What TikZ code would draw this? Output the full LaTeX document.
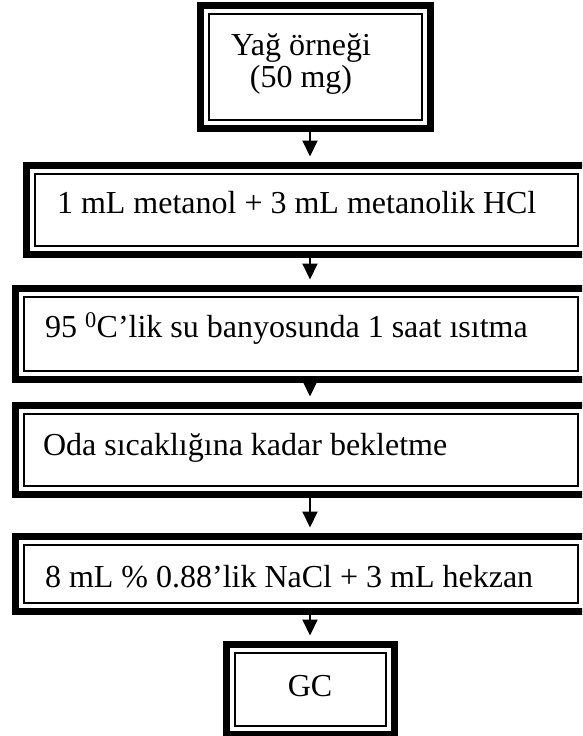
\documentclass[tikz,border=0pt]{standalone}
\usepackage{fontspec}
\setmainfont{Liberation Serif}
\usetikzlibrary{arrows.meta}
\tikzset{
  frame/.style={draw, line width=7pt, inner sep=0pt, outer sep=0pt, rectangle},
  txt/.style={font=\fontsize{32}{32}\selectfont, inner sep=0pt, outer sep=0pt},
  arr/.style={line width=2pt, -{Triangle[length=16pt,width=15pt]}, shorten >=9pt}
}
\begin{document}
\begin{tikzpicture}[x=1pt,y=-1pt]
\useasboundingbox (0,0) rectangle (582,736);
\clip (0,0) rectangle (582,736);
% frames: outer edges -> centre line inset 3.5
\node[frame, minimum width=230pt, minimum height=123pt] (f1) at (315.5,67) {};
\node[frame, minimum width=560pt, minimum height=89pt]  (f2) at (306.5,210) {};
\node[frame, minimum width=571pt, minimum height=91pt]  (f3) at (301,334) {};
\node[frame, minimum width=571pt, minimum height=89pt]  (f4) at (301,450) {};
\node[frame, minimum width=571pt, minimum height=75pt]  (f5) at (301,574) {};
\node[frame, minimum width=168pt, minimum height=90pt]  (f6) at (310.5,689.5) {};
\foreach \n in {f1,f2,f3,f4,f5,f6}
  \draw[line width=1.8pt] ([xshift=8.5pt,yshift=-8.5pt]\n.north west) rectangle ([xshift=-8.5pt,yshift=8.5pt]\n.south east);
% texts
\node[txt, anchor=base] (t1a) at (301,55) {Yağ örneği};
\node[txt, anchor=base] (t1b) at (301,87) {(50 mg)};
\node[txt, anchor=base west] (t2) at (57,213) {1 mL metanol + 3 mL metanolik HCl};
\node[txt, anchor=base west] (t3) at (45,337) {95 \textsuperscript{0}C’lik su banyosunda 1 saat ısıtma};
\node[txt, anchor=base west] (t4) at (43,455) {Oda sıcaklığına kadar bekletme};
\node[txt, anchor=base west] (t5) at (45,587) {8 mL \% 0.88’lik NaCl + 3 mL hekzan};
\node[txt, anchor=base] (t6) at (310,696) {GC};
% arrows
\coordinate (ax) at (310,0);
\draw[arr] (f1.south -| ax) -- (f2.north -| ax);
\draw[arr] (f2.south -| ax) -- (f3.north -| ax);
\draw[arr] (f3.south -| ax) -- (f4.north -| ax);
\draw[arr] (f4.south -| ax) -- (f5.north -| ax);
\draw[arr] (f5.south -| ax) -- (f6.north -| ax);
\end{tikzpicture}
\end{document}
